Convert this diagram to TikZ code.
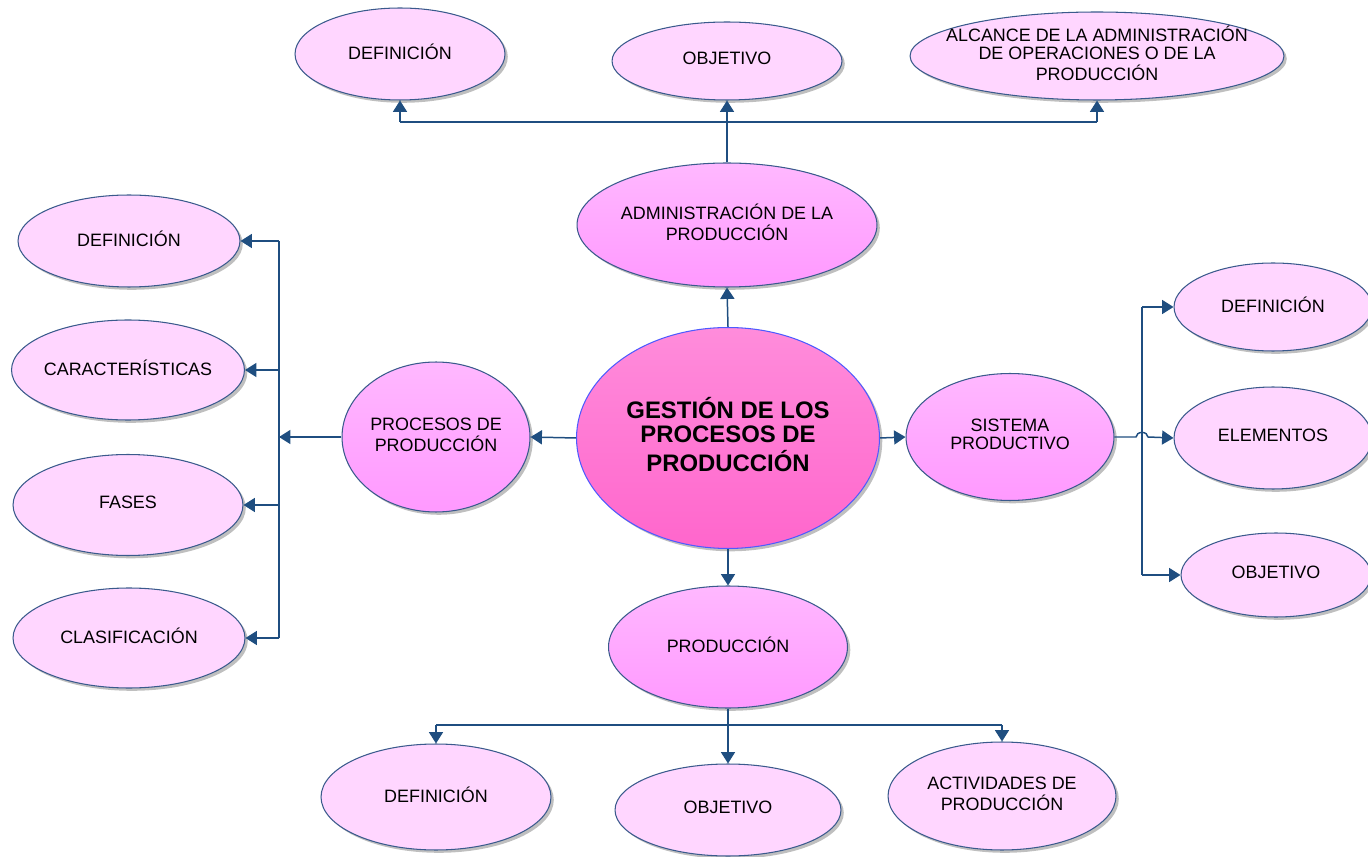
\documentclass[tikz,border=0pt]{standalone}
\usepackage{fontspec}
\setmainfont{Liberation Sans}
\usepackage{xcolor}
\usetikzlibrary{arrows.meta, shapes.geometric, shadows}

\definecolor{linkblue}{HTML}{1F4E80}
\definecolor{rimblue}{HTML}{3A5A8C}
\definecolor{palepink}{HTML}{FFD6FF}
\definecolor{midtop}{HTML}{FFB8FF}
\definecolor{midbot}{HTML}{FF99FF}
\definecolor{hubtop}{HTML}{FF8CDB}
\definecolor{hubbot}{HTML}{FF66CC}
\definecolor{hubrim}{HTML}{4D5BFF}

% text of a bubble, kept from widening the ellipse
\newcommand{\lbl}[1]{\makebox[0pt]{\begin{tabular}{@{}c@{}}#1\end{tabular}}}

\tikzset{
  bubble/.style={ellipse, inner sep=0pt, draw=rimblue, line width=0.6pt,
    font=\fontsize{10.2}{10.2}\selectfont,
    drop shadow={shadow xshift=1.6pt, shadow yshift=-1.6pt, fill=black!50, opacity=0.5}},
  leaf/.style={bubble, fill=palepink},
  branch/.style={bubble, top color=midtop, bottom color=midbot},
  hub/.style={bubble, draw=hubrim, top color=hubtop, bottom color=hubbot,
    font=\fontsize{13.6}{13.6}\selectfont\bfseries},
  link/.style={draw=linkblue, line width=0.85pt},
  arr/.style={link, -{Triangle[length=6.5pt, width=8pt]}},
}

\begin{document}
\begin{tikzpicture}[x=0.02cm, y=-0.02cm]
\useasboundingbox (0,0) rectangle (1368,857);

% Centre and first ring
\node[hub, minimum width=6.06cm, minimum height=4.42cm] (hub) at (728,438) {\lbl{GESTIÓN DE LOS\\PROCESOS DE\\PRODUCCIÓN}};
\node[branch, minimum width=6.0cm, minimum height=2.48cm] (adm) at (727,225) {\lbl{ADMINISTRACIÓN DE LA\\PRODUCCIÓN}};
\node[branch, minimum width=3.76cm, minimum height=3.0cm] (proc) at (436,437) {\lbl{PROCESOS DE\\PRODUCCIÓN}};
\node[branch, minimum width=4.16cm, minimum height=2.54cm] (sis) at (1010,437) {\lbl{SISTEMA\\PRODUCTIVO}};
\node[branch, minimum width=4.78cm, minimum height=2.44cm] (prod) at (728,647) {\lbl{PRODUCCIÓN}};

% Top row
\node[leaf, minimum width=4.2cm, minimum height=1.84cm] (tdef) at (400,54) {\lbl{DEFINICIÓN}};
\node[leaf, minimum width=4.6cm, minimum height=1.56cm] (tobj) at (727,61) {\lbl{OBJETIVO}};
\node[leaf, minimum width=7.48cm, minimum height=1.76cm] (talc) at (1097,56) {\lbl{ALCANCE DE LA ADMINISTRACIÓN\\DE OPERACIONES O DE LA\\PRODUCCIÓN}};

% Left column
\node[leaf, minimum width=4.44cm, minimum height=1.84cm] (ldef) at (129,241) {\lbl{DEFINICIÓN}};
\node[leaf, minimum width=4.66cm, minimum height=2.0cm] (lcar) at (128,370) {\lbl{CARACTERÍSTICAS}};
\node[leaf, minimum width=4.6cm, minimum height=2.02cm] (lfas) at (128,505) {\lbl{FASES}};
\node[leaf, minimum width=4.64cm, minimum height=2.0cm] (lcla) at (129,638) {\lbl{CLASIFICACIÓN}};

% Right column
\node[leaf, minimum width=3.96cm, minimum height=1.76cm] (rdef) at (1273,307) {\lbl{DEFINICIÓN}};
\node[leaf, minimum width=3.96cm, minimum height=2.04cm] (rele) at (1273,438) {\lbl{ELEMENTOS}};
\node[leaf, minimum width=3.8cm, minimum height=1.68cm] (robj) at (1276,575) {\lbl{OBJETIVO}};

% Bottom row
\node[leaf, minimum width=4.6cm, minimum height=2.12cm] (bdef) at (436,797) {\lbl{DEFINICIÓN}};
\node[leaf, minimum width=4.52cm, minimum height=1.84cm] (bobj) at (728,810) {\lbl{OBJETIVO}};
\node[leaf, minimum width=4.56cm, minimum height=2.16cm] (bact) at (1002,796) {\lbl{ACTIVIDADES DE\\PRODUCCIÓN}};

% Bus points
\coordinate (tbus) at (727,122);
\coordinate (lbus) at (279,437);
\coordinate (rbus) at (1142,437);
\coordinate (bbus) at (728,725);

% Centre to first ring
\draw[arr] (hub.north) -- (adm.south);
\draw[arr] (hub.south) -- (prod.north);
\draw[arr] (hub.west) -- (proc.east);
\draw[arr] (hub.east) -- (sis.west);

% Top branch
\draw[link] (adm.north) -- (tbus);
\draw[link] (tdef.south |- tbus) -- (talc.south |- tbus);
\foreach \n in {tdef, tobj, talc} {
    \draw[arr] (\n.south |- tbus) -- (\n.south);
}

% Left branch
\draw[arr] (proc.west) -- (lbus);
\draw[link] (lbus |- ldef.east) -- (lbus |- lcla.east);
\foreach \n in {ldef, lcar, lfas, lcla} {
    \draw[arr] (lbus |- \n.east) -- (\n.east);
}

% Right branch
\draw[link] (rbus |- rdef.west) -- (rbus |- robj.west);
\draw[arr] (rbus |- rdef.west) -- (rdef.west);
\draw[arr] (rbus |- robj.west) -- (robj.west);
\draw[arr] (sis.east) -- (1136,437) arc[start angle=180, end angle=0, x radius=3.4pt, y radius=2.6pt] -- (rele.west);

% Bottom branch
\draw[link] (prod.south) -- (bbus);
\draw[link] (bdef.north |- bbus) -- (bact.north |- bbus);
\foreach \n in {bdef, bobj, bact} {
    \draw[arr] (\n.north |- bbus) -- (\n.north);
}

\end{tikzpicture}
\end{document}
